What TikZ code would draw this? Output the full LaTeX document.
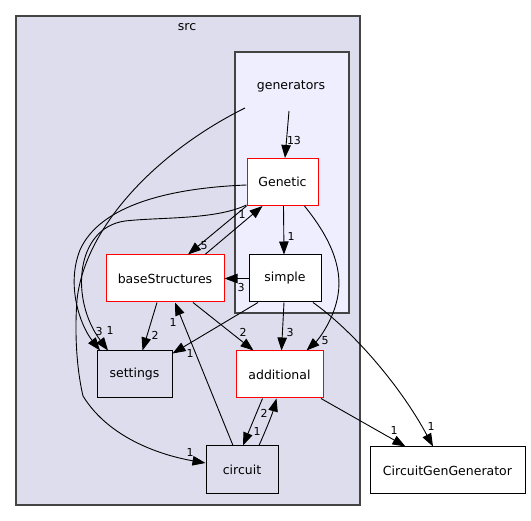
\documentclass[tikz,border=0pt]{standalone}
\usepackage{fontspec}
\setmainfont{DejaVu Sans}
\usetikzlibrary{arrows.meta}
\definecolor{srcfill}{HTML}{DDDDEE}
\definecolor{genfill}{HTML}{EEEEFF}
\definecolor{frameline}{HTML}{444444}

\tikzset{
  dirbox/.style={draw=black, line width=1pt, minimum height=47pt, inner sep=0pt,
    font=\fontsize{12.5}{15}\selectfont},
  redbox/.style={dirbox, draw=red, fill=white},
  greybox/.style={dirbox, fill=srcfill},
  whitebox/.style={dirbox, fill=white},
  dep/.style={-{Triangle[length=13pt,width=9.5pt]}, line width=0.9pt},
  cnt/.style={inner sep=0pt, font=\fontsize{11}{13}\selectfont},
  title/.style={inner sep=0pt, font=\fontsize{12.5}{15}\selectfont},
}

\begin{document}
\begin{tikzpicture}[x=1pt,y=-1pt]
\useasboundingbox (0,0) rectangle (531,521);

%Cluster: src
\draw [frameline, fill=srcfill, line width=1.3pt] (16,16) rectangle (360,505);
\node [title] (srctitle) at (187,27) {src};
%Cluster: generators
\draw [frameline, fill=genfill, line width=1.3pt] (235,52) rectangle (349,313);
\node [title] (gentitle) at (291,86) {generators};
\coordinate (gentop) at (289,111);
\coordinate (genleft) at (245,108);

%Dirs
\node [redbox, minimum width=71pt] (genetic) at (282.5,182) {Genetic};
\node [whitebox, minimum width=72pt] (simple) at (285,278.5) {simple};
\node [redbox, minimum width=118pt] (base) at (165,278.5) {baseStructures};
\node [greybox, minimum width=75pt] (settings) at (134.5,374.5) {settings};
\node [redbox, minimum width=87pt] (additional) at (279.5,374.5) {additional};
\node [greybox, minimum width=72pt, minimum height=48pt] (circuit) at (242,470) {circuit};
\node [whitebox, minimum width=155pt] (cgg) at (447.5,470.5) {CircuitGenGenerator};

%Dependencies
\draw [dep] (gentop) -- ([xshift=2.5pt]genetic.north);
\node [cnt] (l13) at (294,140) {13};

\draw [dep] (genleft) .. controls (160,150) and (85,225) .. (77,300)
  .. controls (74,340) and (78,375) .. (83,396)
  .. controls (110,440) and (165,456) .. ([yshift=7pt]circuit.west);
\node [cnt] (lcirc) at (190,452) {1};

\draw [dep] ([yshift=-3pt]genetic.west) .. controls (170,188) and (100,205) .. (80,250)
  .. controls (66,285) and (80,325) .. ([xshift=-34.5pt]settings.north);
\node [cnt] (lset3) at (99,331) {3};

\draw [dep] ([yshift=1pt]genetic.south west) .. controls (215,220) and (160,217) .. (125,221)
  .. controls (75,228) and (70,300) .. ([xshift=-26.5pt]settings.north);
\node [cnt] (lset1) at (110,330) {1};

\draw [dep] (genetic.south west) -- ([xshift=23pt]base.north);
\node [cnt] (lbase5) at (204,246) {5};

\draw [dep] ([xshift=40pt]base.north) -- ([xshift=-20pt]genetic.south);
\node [cnt] (lgen1) at (242,214) {1};

\draw [dep] ([xshift=1pt]genetic.south) -- ([xshift=-1pt]simple.north);
\node [cnt] (lsim1) at (291,236) {1};

\draw [dep] ([xshift=22pt]genetic.south) .. controls (328,235) and (343,265) .. (338,295)
  .. controls (334,320) and (318,340) .. ([xshift=27pt]additional.north);
\node [cnt] (ladd5) at (325,341) {5};

\draw [dep] (simple.west) -- (base.east);
\node [cnt] (lbase3) at (241,287) {3};

\draw [dep] ([xshift=-1pt]simple.south) -- ([xshift=2pt]additional.north);
\node [cnt] (ladd3) at (290,332) {3};

\draw [dep] ([xshift=-27pt]simple.south) -- ([yshift=-3pt]settings.north east);
\node [cnt] (lset1b) at (190,353) {1};

\draw [dep] ([xshift=28pt]simple.south) .. controls (352,330) and (400,385) .. ([xshift=-14.5pt]cgg.north);
\node [cnt] (lcgg1) at (431,426) {1};

\draw [dep] ([xshift=-8pt]base.south) -- ([xshift=8pt]settings.north);
\node [cnt] (lset2) at (155,335) {2};

\draw [dep] ([xshift=28pt]base.south) -- ([xshift=-26pt]additional.north);
\node [cnt] (ladd2) at (243,332) {2};

\draw [dep] ([xshift=-9pt]circuit.north) -- ([xshift=10pt]base.south);
\node [cnt] (lbase1) at (173,322) {1};

\draw [dep] ([xshift=-17pt]additional.south) -- ([xshift=1pt]circuit.north);
\node [cnt] (lcirc1) at (257,431) {1};

\draw [dep] ([xshift=17pt]circuit.north) .. controls (265,432) and (272,415) .. ([xshift=-3pt]additional.south);
\node [cnt] (ladd2b) at (264,413) {2};

\draw [dep] ([xshift=41.5pt]additional.south) -- ([xshift=-42pt]cgg.north);
\node [cnt] (lcgg1b) at (394,430) {1};

\end{tikzpicture}
\end{document}
